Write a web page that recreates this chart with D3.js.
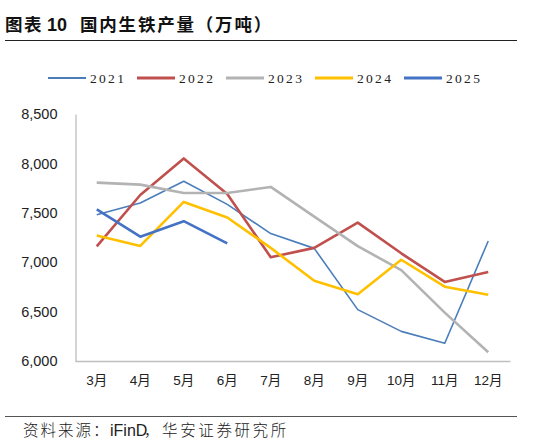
<!DOCTYPE html>
<html>
<head>
<meta charset="utf-8">
<script src="https://cdn.jsdelivr.net/npm/d3@7"></script>
<style>
  body { margin: 0; background: #fff; }
  svg { display: block; }
</style>
</head>
<body>
<script>
// months on x axis
var months = ["3月", "4月", "5月", "6月", "7月", "8月", "9月", "10月", "11月", "12月"];
// pig iron output, 10k tonnes
var y2021 = [7480, 7600, 7820, 7585, 7290, 7140, 6520, 6300, 6180, 7215];
var y2022 = [7160, 7680, 8050, 7690, 7050, 7145, 7400, 7090, 6800, 6900];
var y2023 = [7805, 7785, 7700, 7700, 7762, 7462, 7162, 6920, 6490, 6088];
var y2024 = [7270, 7165, 7610, 7452, 7145, 6812, 6675, 7025, 6752, 6670];
var y2025 = [7535, 7258, 7415, 7190];
var yTicks = [6000, 6500, 7000, 7500, 8000, 8500];

var series = [
  { name: "2021", values: y2021, color: "#4a7ebb", w: 1.6 },
  { name: "2022", values: y2022, color: "#c0504d", w: 2.6 },
  { name: "2023", values: y2023, color: "#b3b3b3", w: 2.6 },
  { name: "2024", values: y2024, color: "#ffc000", w: 2.6 },
  { name: "2025", values: y2025, color: "#4472c4", w: 2.6 }
];

var width = 541, height = 446;
var cjk = "'Noto Sans CJK SC', sans-serif";

var svg = d3.select("body").append("svg")
    .attr("width", width)
    .attr("height", height);

// title, pieces placed like the original
var title = svg.append("text")
    .attr("y", 31)
    .style("font-family", cjk)
    .style("font-weight", "bold")
    .style("font-size", "17.5px")
    .style("fill", "#111");
title.append("tspan").attr("x", 5).style("letter-spacing", "1.5px").text("图表");
title.append("tspan").attr("x", 47)
    .style("font-family", "'Liberation Sans', Arial, sans-serif")
    .style("font-size", "18px")
    .text("10");
title.append("tspan").attr("x", 80).style("letter-spacing", "1.8px").text("国内生铁产量（万吨）");

svg.append("line")
    .attr("x1", 5).attr("x2", 517)
    .attr("y1", 40.5).attr("y2", 40.5)
    .style("stroke", "#222")
    .style("stroke-width", 1);

// scales
var x = d3.scaleBand()
    .domain(months)
    .range([75, 510]);

var y = d3.scaleLinear()
    .domain([6000, 8500])
    .range([361, 114]);

// y axis
var yAxis = svg.append("g")
    .attr("transform", "translate(75.5,0)")
    .call(d3.axisLeft(y).tickValues(yTicks).tickSize(0).tickPadding(18).tickFormat(d3.format(",")));
yAxis.select(".domain").style("stroke", "#bfbfbf").style("stroke-width", 1.3);
yAxis.selectAll("text")
    .style("font-family", "'Liberation Sans', Arial, sans-serif")
    .style("font-size", "14.5px")
    .style("fill", "#222");

// x axis
var xAxis = svg.append("g")
    .attr("transform", "translate(0,361)")
    .call(d3.axisBottom(x).tickSize(0).tickPadding(14));
xAxis.select(".domain").style("stroke", "#bfbfbf").style("stroke-width", 1.3);
xAxis.selectAll("text")
    .style("font-family", "'Liberation Sans', 'Noto Sans CJK SC', sans-serif")
    .style("font-size", "13.5px")
    .style("fill", "#222");

// lines
var line = d3.line()
    .x(function(d, i) { return x(months[i]) + x.bandwidth() / 2; })
    .y(function(d) { return y(d); });

series.forEach(function(s) {
  svg.append("path")
    .datum(s.values)
    .attr("d", line)
    .style("fill", "none")
    .style("stroke", s.color)
    .style("stroke-width", s.w)
    .style("stroke-linejoin", "round");
});

// legend
var legendX = [48, 137, 226, 315, 404];
series.forEach(function(s, i) {
  var g = svg.append("g").attr("transform", "translate(" + legendX[i] + ",78)");
  g.append("line")
    .attr("x1", 0).attr("x2", 38)
    .attr("y1", 0).attr("y2", 0)
    .style("stroke", s.color)
    .style("stroke-width", s.w + 0.4);
  g.append("text")
    .attr("x", 42)
    .attr("y", 5)
    .style("font-family", "'Liberation Serif', serif")
    .style("font-size", "13.5px")
    .style("letter-spacing", "2.3px")
    .style("fill", "#222")
    .text(s.name);
});

// footer
svg.append("line")
    .attr("x1", 5).attr("x2", 517)
    .attr("y1", 416.5).attr("y2", 416.5)
    .style("stroke", "#555")
    .style("stroke-width", 1);

var src = svg.append("text")
    .attr("y", 436)
    .style("font-family", cjk)
    .style("font-weight", 300)
    .style("font-size", "15.5px")
    .style("fill", "#222");
src.append("tspan").attr("x", 23).style("letter-spacing", "2px").text("资料来源：");
src.append("tspan").attr("x", 110)
    .style("font-family", "'Liberation Sans', Arial, sans-serif")
    .style("font-size", "16px")
    .text("iFinD");
src.append("tspan").attr("x", 144).style("letter-spacing", "2.6px").text("，华安证券研究所");
</script>
</body>
</html>
